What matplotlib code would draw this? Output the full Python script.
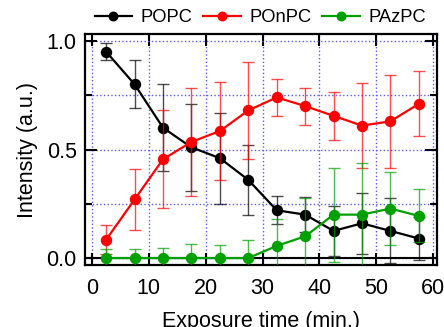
import matplotlib
matplotlib.use("Agg")
import matplotlib.pyplot as plt
from matplotlib.ticker import MultipleLocator

plt.rcParams['font.family'] = ['Liberation Sans', 'DejaVu Sans']

time_min = [2.5, 7.5, 12.5, 17.5, 22.5, 27.5, 32.5, 37.5, 42.5, 47.5, 52.5, 57.5]

popc = [0.95, 0.80, 0.60, 0.51, 0.46, 0.36, 0.22, 0.20, 0.125, 0.16, 0.125, 0.09]
popc_err = [0.04, 0.11, 0.20, 0.20, 0.21, 0.16, 0.065, 0.08, 0.115, 0.14, 0.15, 0.10]

ponpc = [0.085, 0.27, 0.455, 0.535, 0.585, 0.68, 0.74, 0.70, 0.655, 0.61, 0.63, 0.71]
ponpc_err = [0.065, 0.14, 0.225, 0.25, 0.225, 0.225, 0.085, 0.085, 0.11, 0.195, 0.215, 0.15]

pazpc = [0.0, 0.0, 0.0, 0.0, 0.0, 0.0, 0.056, 0.10, 0.20, 0.20, 0.228, 0.194]
pazpc_err = [0.04, 0.04, 0.045, 0.066, 0.059, 0.085, 0.123, 0.177, 0.216, 0.24, 0.167, 0.122]

fig = plt.figure(figsize=(4.44, 3.27), dpi=100)
ax = fig.add_axes([85 / 444, 62 / 327, 352 / 444, 231 / 327])

series = [
    ("POPC", popc, popc_err, "black"),
    ("POnPC", ponpc, ponpc_err, "#ff0000"),
    ("PAzPC", pazpc, pazpc_err, "#00a000"),
]
for i, (name, vals, errs, col) in enumerate(series):
    ax.errorbar(time_min, vals, yerr=errs, fmt="none", ecolor=col, elinewidth=1,
                capsize=4, capthick=1, alpha=0.7, zorder=3 + i)
    ax.plot(time_min, vals, "-o", color=col, lw=1.6, ms=7.2, label=name, zorder=4 + i)

# black line along zero
ax.axhline(0, color="black", lw=1.5, zorder=2)

ax.set_xlim(-1.23, 60.7)
ax.set_ylim(-0.032, 1.032)
ax.xaxis.set_major_locator(MultipleLocator(10))
ax.yaxis.set_minor_locator(MultipleLocator(0.25))
ax.set_yticks([0, 0.5, 1.0])
ax.set_yticklabels(["0.0", "0.5", "1.0"])

ax.grid(True, which="both", color="#5a5aff", linestyle=":", lw=1, zorder=0)
ax.set_axisbelow(True)
ax.tick_params(which="both", direction="in", top=True, right=True, width=1.5,
               labelsize=15.5, colors="black")
ax.tick_params(which="major", length=8.5)
ax.tick_params(which="minor", length=5)
ax.tick_params(axis="x", pad=9)
ax.tick_params(axis="y", pad=6)
for s in ax.spines.values():
    s.set_linewidth(1.6)

ax.set_xlabel("Exposure time (min.)", fontsize=15.5, labelpad=9)
ax.set_ylabel("Intensity (a.u.)", fontsize=15.5, labelpad=6)

fig.legend(loc="center", bbox_to_anchor=(0.586, 0.945), ncol=3, frameon=False,
           fontsize=13.2, handlelength=2.05, handletextpad=0.45, columnspacing=0.6,
           markerscale=0.85, borderaxespad=0)

plt.savefig("out.png", dpi=100)
plt.close(fig)
